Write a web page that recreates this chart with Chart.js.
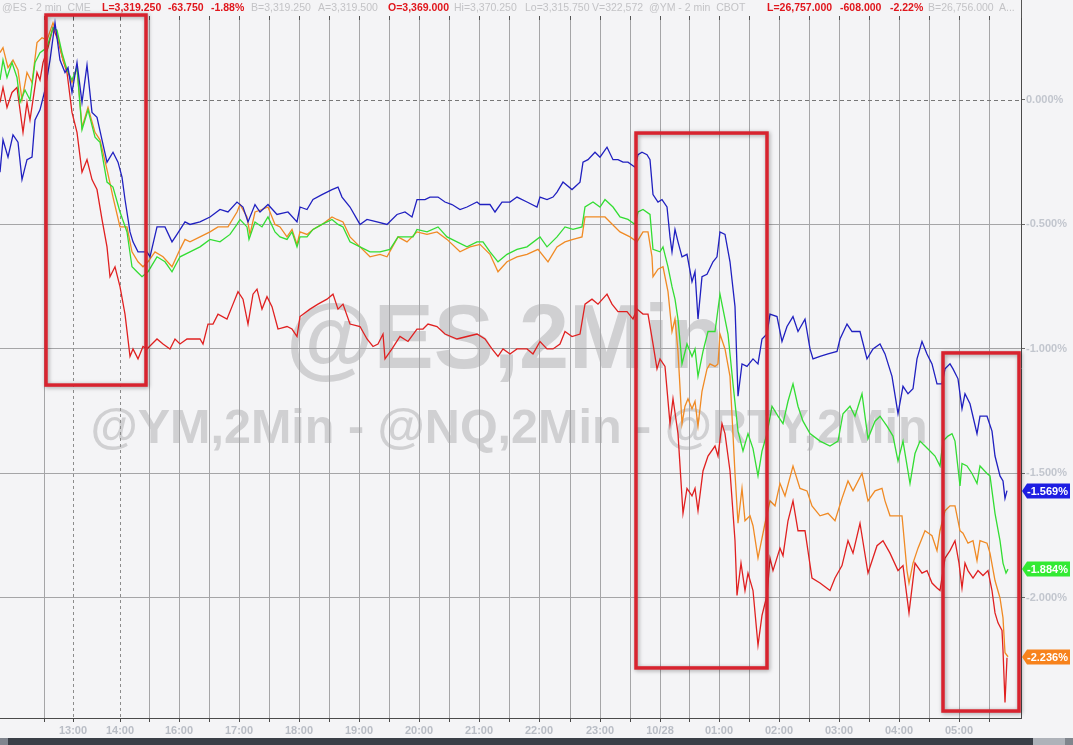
<!DOCTYPE html>
<html><head><meta charset="utf-8">
<script src="https://cdn.jsdelivr.net/npm/chart.js@4.4.1/dist/chart.umd.min.js"></script>
<style>html,body{margin:0;padding:0;background:#f4f4f6;overflow:hidden}#wrap{position:relative;width:1073px;height:745px}canvas{display:block}</style>
</head><body><div id="wrap"><canvas id="c" width="1073" height="745"></canvas></div>
<script>
// ---------- DATA (x = session minutes since chart start, y = % change) ----------
const timeTicks = [44,73,120,149,179,209,239,269,299,329,359,389,419,449,479,509,539,570,600,630,660,689,719,749,779,809,839,869,899,929,959,989];
const timeTickLabels = ['','13:00','14:00','','16:00','','17:00','','18:00','','19:00','','20:00','','21:00','','22:00','','23:00','','10/28','','01:00','','02:00','','03:00','','04:00','','05:00',''];
const sessionBreaks = [73,120];
const pctTicks = [0,-0.5,-1,-1.5,-2];

const seriesBlue = [[0,-0.29],[3,-0.16],[8,-0.23],[13,-0.14],[18,-0.17],[22,-0.32],[27,-0.24],[32,-0.23],[35,-0.08],[40,-0.04],[45,0.04],[50,0.16],[55,0.31],[60,0.16],[65,0.11],[68,0.13],[72,0.03],[77,0.15],[82,-0.01],[87,0.14],[92,-0.05],[97,-0.07],[102,-0.16],[107,-0.25],[113,-0.21],[118,-0.25],[122,-0.31],[125,-0.40],[130,-0.53],[133,-0.57],[138,-0.61],[147,-0.61],[150,-0.63],[157,-0.51],[165,-0.51],[172,-0.57],[177,-0.54],[185,-0.49],[190,-0.50],[200,-0.49],[210,-0.47],[220,-0.44],[228,-0.45],[237,-0.41],[243,-0.43],[248,-0.49],[255,-0.42],[260,-0.45],[268,-0.42],[277,-0.46],[288,-0.45],[297,-0.49],[300,-0.43],[307,-0.44],[313,-0.40],[322,-0.38],[332,-0.36],[338,-0.35],[342,-0.39],[350,-0.43],[360,-0.50],[367,-0.48],[377,-0.49],[387,-0.50],[397,-0.46],[405,-0.45],[412,-0.47],[417,-0.40],[425,-0.40],[430,-0.39],[438,-0.39],[445,-0.41],[452,-0.42],[460,-0.44],[467,-0.43],[477,-0.41],[480,-0.42],[490,-0.42],[495,-0.45],[502,-0.41],[510,-0.41],[517,-0.39],[527,-0.41],[537,-0.43],[540,-0.39],[547,-0.40],[553,-0.39],[557,-0.37],[563,-0.33],[572,-0.36],[580,-0.33],[583,-0.25],[588,-0.24],[595,-0.21],[600,-0.23],[607,-0.19],[613,-0.24],[618,-0.24],[623,-0.25],[628,-0.25],[635,-0.27],[638,-0.22],[642,-0.21],[647,-0.22],[650,-0.24],[653,-0.38],[658,-0.41],[662,-0.40],[667,-0.43],[670,-0.55],[672,-0.61],[675,-0.52],[678,-0.57],[682,-0.63],[687,-0.62],[692,-0.73],[695,-0.69],[698,-0.88],[702,-0.71],[707,-0.70],[713,-0.65],[717,-0.63],[720,-0.53],[725,-0.54],[730,-0.65],[735,-0.83],[738,-1.19],[742,-1.06],[747,-1.07],[753,-1.04],[758,-1.06],[762,-0.96],[767,-0.94],[770,-0.86],[777,-0.87],[782,-0.97],[787,-0.91],[793,-0.87],[798,-0.93],[805,-0.88],[810,-1.00],[813,-1.04],[820,-1.03],[828,-1.02],[837,-1.01],[840,-0.96],[847,-0.90],[852,-0.93],[860,-0.93],[867,-1.04],[873,-1.00],[880,-0.98],[885,-1.02],[892,-1.11],[898,-1.26],[903,-1.15],[908,-1.18],[913,-1.16],[917,-1.04],[922,-0.97],[927,-1.02],[932,-1.06],[937,-1.14],[942,-1.14],[945,-1.08],[950,-1.06],[953,-1.08],[958,-1.12],[962,-1.24],[965,-1.18],[970,-1.22],[977,-1.34],[980,-1.27],[987,-1.27],[992,-1.33],[995,-1.43],[1000,-1.51],[1003,-1.53],[1005,-1.60],[1007,-1.569]];

const seriesGreen = [[0,0.08],[3,0.16],[7,0.09],[12,0.15],[17,0.09],[20,-0.01],[25,0.04],[30,0.00],[35,0.15],[40,0.19],[47,0.21],[53,0.29],[57,0.28],[62,0.19],[67,0.12],[72,0.08],[77,0.13],[82,-0.12],[88,-0.04],[95,-0.15],[100,-0.17],[107,-0.33],[113,-0.35],[120,-0.45],[127,-0.53],[132,-0.67],[137,-0.69],[142,-0.71],[148,-0.69],[157,-0.63],[165,-0.65],[172,-0.69],[180,-0.63],[190,-0.61],[200,-0.59],[210,-0.56],[220,-0.57],[230,-0.54],[237,-0.50],[240,-0.48],[247,-0.51],[249,-0.56],[255,-0.49],[262,-0.51],[268,-0.47],[275,-0.53],[280,-0.55],[287,-0.56],[292,-0.53],[297,-0.59],[300,-0.55],[307,-0.55],[313,-0.52],[322,-0.50],[332,-0.48],[338,-0.50],[343,-0.51],[350,-0.57],[360,-0.59],[370,-0.61],[380,-0.61],[390,-0.60],[398,-0.55],[407,-0.55],[413,-0.55],[417,-0.52],[427,-0.53],[438,-0.51],[447,-0.55],[457,-0.57],[467,-0.59],[477,-0.57],[483,-0.57],[490,-0.61],[498,-0.65],[507,-0.62],[517,-0.60],[527,-0.59],[540,-0.55],[547,-0.59],[557,-0.55],[565,-0.51],[573,-0.52],[582,-0.51],[585,-0.43],[593,-0.41],[600,-0.43],[605,-0.40],[613,-0.43],[620,-0.47],[628,-0.48],[635,-0.50],[638,-0.45],[643,-0.44],[650,-0.46],[653,-0.60],[660,-0.61],[663,-0.59],[668,-0.67],[672,-0.75],[675,-0.80],[678,-0.88],[682,-1.06],[687,-0.98],[692,-1.03],[695,-1.00],[698,-1.11],[703,-1.01],[708,-0.93],[715,-0.93],[720,-0.78],[723,-0.84],[728,-0.94],[733,-1.14],[738,-1.33],[743,-1.41],[748,-1.34],[753,-1.40],[758,-1.51],[762,-1.41],[767,-1.34],[772,-1.23],[778,-1.27],[783,-1.30],[788,-1.21],[793,-1.14],[798,-1.23],[803,-1.29],[810,-1.34],[820,-1.37],[830,-1.39],[838,-1.37],[843,-1.26],[850,-1.23],[855,-1.27],[862,-1.18],[868,-1.36],[875,-1.29],[880,-1.27],[887,-1.31],[893,-1.35],[898,-1.45],[903,-1.37],[910,-1.54],[915,-1.42],[920,-1.37],[925,-1.39],[930,-1.41],[935,-1.43],[940,-1.47],[943,-1.37],[948,-1.35],[952,-1.34],[955,-1.37],[960,-1.55],[962,-1.46],[967,-1.47],[972,-1.50],[977,-1.54],[980,-1.47],[987,-1.50],[990,-1.51],[995,-1.66],[1000,-1.77],[1003,-1.86],[1006,-1.90],[1008,-1.884]];

const seriesOrange = [[0,0.19],[3,0.21],[8,0.13],[13,0.16],[18,0.12],[22,0.00],[27,0.11],[32,0.07],[37,0.23],[42,0.25],[47,0.24],[53,0.31],[58,0.25],[63,0.16],[67,0.12],[72,0.07],[77,0.13],[82,-0.11],[88,-0.03],[95,-0.13],[100,-0.16],[107,-0.28],[113,-0.39],[120,-0.51],[127,-0.51],[132,-0.61],[138,-0.65],[143,-0.67],[148,-0.65],[155,-0.61],[163,-0.63],[172,-0.67],[180,-0.60],[185,-0.56],[190,-0.57],[200,-0.55],[210,-0.53],[218,-0.51],[228,-0.51],[237,-0.45],[240,-0.42],[247,-0.47],[250,-0.54],[255,-0.45],[262,-0.44],[268,-0.43],[275,-0.50],[280,-0.51],[287,-0.55],[292,-0.52],[297,-0.58],[300,-0.53],[307,-0.54],[313,-0.52],[322,-0.50],[332,-0.47],[337,-0.48],[343,-0.49],[350,-0.55],[360,-0.59],[370,-0.63],[380,-0.62],[387,-0.63],[398,-0.55],[407,-0.57],[417,-0.53],[427,-0.54],[437,-0.53],[447,-0.56],[460,-0.61],[470,-0.59],[480,-0.58],[490,-0.62],[498,-0.69],[507,-0.65],[517,-0.63],[527,-0.62],[538,-0.60],[548,-0.65],[557,-0.59],[565,-0.57],[573,-0.56],[582,-0.55],[585,-0.47],[593,-0.47],[598,-0.47],[605,-0.47],[610,-0.49],[615,-0.51],[620,-0.53],[630,-0.55],[637,-0.57],[643,-0.53],[648,-0.53],[652,-0.63],[653,-0.71],[658,-0.68],[663,-0.67],[668,-0.77],[672,-0.93],[675,-0.88],[678,-1.01],[682,-1.30],[685,-1.23],[688,-1.20],[692,-1.24],[695,-1.21],[698,-1.31],[702,-1.17],[707,-1.08],[710,-1.06],[715,-1.07],[718,-1.06],[720,-0.94],[725,-1.00],[730,-1.11],[735,-1.50],[738,-1.70],[742,-1.56],[745,-1.69],[750,-1.67],[753,-1.71],[758,-1.84],[762,-1.76],[765,-1.70],[770,-1.61],[775,-1.63],[780,-1.54],[785,-1.59],[793,-1.47],[800,-1.56],[807,-1.57],[812,-1.63],[820,-1.67],[828,-1.66],[835,-1.69],[842,-1.60],[848,-1.53],[853,-1.57],[862,-1.50],[868,-1.61],[875,-1.57],[882,-1.56],[885,-1.61],[890,-1.67],[897,-1.67],[902,-1.67],[907,-1.89],[909,-1.94],[913,-1.86],[918,-1.80],[925,-1.73],[932,-1.75],[937,-1.81],[940,-1.73],[945,-1.65],[950,-1.63],[955,-1.63],[960,-1.73],[963,-1.74],[968,-1.78],[973,-1.77],[977,-1.85],[980,-1.77],[987,-1.78],[990,-1.82],[995,-1.93],[1000,-2.00],[1003,-2.08],[1005,-2.22],[1008,-2.236]];

const seriesRed = [[0,-0.01],[3,0.05],[7,-0.03],[12,0.03],[17,0.05],[20,-0.04],[23,-0.13],[27,-0.01],[30,-0.08],[33,0.00],[37,0.11],[40,0.08],[43,0.15],[48,0.21],[53,0.29],[58,0.24],[63,0.16],[67,0.11],[72,-0.05],[77,-0.13],[82,-0.29],[87,-0.24],[92,-0.32],[97,-0.36],[102,-0.48],[107,-0.59],[110,-0.71],[115,-0.67],[120,-0.75],[125,-0.86],[130,-1.03],[133,-1.00],[138,-1.04],[143,-0.99],[147,-1.00],[157,-0.96],[163,-0.98],[170,-1.00],[175,-0.96],[180,-0.98],[187,-0.96],[200,-0.96],[203,-0.98],[208,-0.90],[213,-0.90],[218,-0.86],[227,-0.88],[233,-0.82],[238,-0.77],[243,-0.80],[248,-0.90],[253,-0.78],[257,-0.76],[262,-0.84],[267,-0.79],[272,-0.83],[278,-0.92],[287,-0.91],[292,-0.92],[297,-0.95],[300,-0.87],[310,-0.84],[318,-0.82],[327,-0.80],[333,-0.78],[338,-0.84],[343,-0.82],[350,-0.90],[360,-0.91],[367,-0.96],[373,-0.99],[378,-0.98],[383,-0.94],[385,-1.04],[392,-1.00],[400,-0.95],[408,-0.97],[417,-0.92],[423,-0.92],[428,-0.90],[437,-0.91],[445,-0.94],[457,-0.96],[467,-0.95],[477,-0.94],[485,-0.96],[492,-1.00],[498,-1.03],[503,-1.00],[510,-1.02],[517,-1.00],[527,-1.00],[533,-1.02],[540,-0.97],[547,-1.00],[553,-1.00],[560,-0.98],[565,-0.93],[572,-0.95],[580,-0.94],[585,-0.82],[592,-0.80],[598,-0.82],[607,-0.78],[612,-0.82],[618,-0.85],[627,-0.85],[633,-0.88],[637,-0.84],[643,-0.86],[648,-0.86],[653,-0.98],[657,-1.08],[660,-1.04],[665,-1.07],[670,-1.30],[673,-1.20],[678,-1.34],[683,-1.66],[687,-1.56],[692,-1.59],[695,-1.56],[698,-1.65],[703,-1.49],[708,-1.43],[715,-1.39],[718,-1.43],[722,-1.30],[725,-1.34],[730,-1.49],[735,-1.77],[737,-1.99],[741,-1.86],[745,-1.97],[748,-1.90],[753,-1.97],[758,-2.19],[762,-2.07],[767,-1.99],[770,-1.84],[773,-1.89],[780,-1.80],[783,-1.83],[788,-1.69],[793,-1.61],[798,-1.73],[805,-1.73],[812,-1.92],[820,-1.94],[830,-1.97],[835,-1.92],[842,-1.87],[848,-1.77],[853,-1.82],[860,-1.70],[868,-1.90],[877,-1.79],[883,-1.77],[890,-1.82],[898,-1.89],[903,-1.87],[909,-2.06],[915,-1.86],[922,-1.90],[927,-1.89],[932,-1.94],[937,-1.96],[940,-1.97],[945,-1.84],[950,-1.81],[955,-1.77],[959,-1.86],[962,-1.96],[965,-1.86],[968,-1.89],[973,-1.92],[978,-1.89],[983,-1.91],[988,-1.89],[992,-1.97],[995,-2.06],[998,-2.10],[1002,-2.13],[1003,-2.21],[1005,-2.42],[1007,-2.24]];

// highlight rectangles: [startMin, endMin, topPct, bottomPct]
const highlightBoxes = [[46,146,0.341,-1.145],[636,767,-0.133,-2.281],[943,1019,-1.016,-2.454]];

// header quote strip
const headerItems = [
  ['@ES - 2 min  CME','g',2],['L=3,319.250','r',102],['-63.750','r',168],['-1.88%','r',211],
  ['B=3,319.250','g',251],['A=3,319.500','g',318],['O=3,369.000','r',388],['Hi=3,370.250','g',454],
  ['Lo=3,315.750','g',525],['V=322,572','g',592],['@YM - 2 min  CBOT','g',649],
  ['L=26,757.000','r',767],['-608.000','r',840],['-2.22%','r',890],['B=26,756.000','g',928],['A...','g',999]
];

// ---------- CHART ----------
const FONT = "'Liberation Sans', Arial, sans-serif";
const toXY = s => s.map(p => ({x:p[0], y:p[1]}));

const deco = {
  id:'deco',
  beforeDraw(chart){
    const c = chart.ctx;
    c.save();
    c.fillStyle = '#f4f4f6';
    c.fillRect(0,0,chart.width,chart.height);
    // watermarks
    c.fillStyle = '#d0d0d2';
    c.textAlign = 'center'; c.textBaseline = 'alphabetic';
    c.font = 'bold 90px ' + FONT;
    c.fillText('@ES,2Min', 505, 368);
    c.font = 'bold 48.5px ' + FONT;
    c.fillText('@YM,2Min - @NQ,2Min - @RTY,2Min', 509, 443);
    // header
    c.textAlign = 'left'; c.textBaseline = 'middle';
    headerItems.forEach(([t,k,x]) => {
      c.font = (k==='r' ? 'bold ' : '') + '10.5px ' + FONT;
      c.fillStyle = k==='r' ? '#e0161c' : '#c3c3c6';
      c.fillText(t, x, 8.5);
    });
    // bottom scroll bar
    c.fillStyle = '#3a3f47'; c.fillRect(0,738,chart.width,7);
    c.fillStyle = '#80858e'; c.fillRect(0,738,8,7);
    c.fillStyle = '#aeb2b9'; c.fillRect(1033,738,32,7);
    c.fillStyle = '#80858d'; c.fillRect(1065,738,8,7);
    c.restore();
  },
  beforeDatasetsDraw(chart){
    const c = chart.ctx, a = chart.chartArea, xs = chart.scales.x, ys = chart.scales.y;
    c.save();
    c.lineWidth = 1;
    c.strokeStyle = '#8c8c8c';
    c.setLineDash([3,3]);
    sessionBreaks.forEach(t => {
      const px = Math.round(xs.getPixelForValue(t)) + 0.5;
      c.beginPath(); c.moveTo(px, a.top); c.lineTo(px, a.bottom); c.stroke();
    });
    c.strokeStyle = '#777';
    c.setLineDash([4,3]);
    const py = Math.round(ys.getPixelForValue(0)) + 0.5;
    c.beginPath(); c.moveTo(a.left, py); c.lineTo(a.right, py); c.stroke();
    c.restore();
  },
  afterDatasetsDraw(chart){
    const c = chart.ctx, a = chart.chartArea, xs = chart.scales.x, ys = chart.scales.y;
    c.save();
    // top ticks and right border extension
    c.strokeStyle = '#555'; c.lineWidth = 1;
    timeTicks.forEach(t => {
      const px = Math.round(xs.getPixelForValue(t)) + 0.5;
      c.beginPath(); c.moveTo(px, a.top - 2); c.lineTo(px, a.top + 2); c.stroke();
    });
    c.beginPath(); c.moveTo(a.right + 0.5, 0); c.lineTo(a.right + 0.5, a.top); c.stroke();
    // highlight boxes
    c.strokeStyle = '#d8232f'; c.lineWidth = 3.5;
    c.shadowColor = 'rgba(0,0,0,0.35)'; c.shadowBlur = 4; c.shadowOffsetX = 1; c.shadowOffsetY = 1;
    highlightBoxes.forEach(([t0,t1,v0,v1]) => {
      const x0 = xs.getPixelForValue(t0), x1 = xs.getPixelForValue(t1);
      const y0 = ys.getPixelForValue(v0), y1 = ys.getPixelForValue(v1);
      c.strokeRect(x0, y0, x1 - x0, y1 - y0);
    });
    c.restore();
    // last value flags
    c.save();
    chart.data.datasets.forEach(ds => {
      if (!ds.flagColor) return;
      const last = ds.data[ds.data.length - 1].y;
      const y = Math.round(ys.getPixelForValue(last));
      const xl = a.right + 1;
      c.fillStyle = ds.flagColor;
      c.beginPath();
      c.moveTo(xl, y); c.lineTo(xl + 5, y - 7.5); c.lineTo(1070, y - 7.5);
      c.lineTo(1070, y + 7.5); c.lineTo(xl + 5, y + 7.5); c.closePath(); c.fill();
      c.fillStyle = '#ffffff';
      c.font = 'bold 11px ' + FONT;
      c.textAlign = 'left'; c.textBaseline = 'middle';
      c.fillText(last.toFixed(3) + '%', xl + 5, y + 0.5);
    });
    c.restore();
  }
};

new Chart(document.getElementById('c'), {
  type: 'line',
  data: {
    datasets: [
      {label:'@YM', data: toXY(seriesBlue), borderColor:'#2020c0', flagColor:'#1d1de2'},
      {label:'@ES', data: toXY(seriesGreen), borderColor:'#33dd33', flagColor:'#33ea33'},
      {label:'@NQ', data: toXY(seriesOrange), borderColor:'#f08a24', flagColor:'#f7821c'},
      {label:'@RTY', data: toXY(seriesRed), borderColor:'#e02020'}
    ].map(d => Object.assign({borderWidth:1.3, pointRadius:0, tension:0, fill:false}, d))
  },
  options: {
    responsive:false, animation:false, devicePixelRatio:1,
    layout:{padding:{top:18,left:0,right:0,bottom:0}},
    plugins:{legend:{display:false}, tooltip:{enabled:false}},
    scales:{
      x:{
        type:'linear', position:'bottom', min:0, max:1021,
        afterBuildTicks: s => { s.ticks = timeTicks.map(v => ({value:v})); },
        afterFit: s => { s.height = 27; },
        ticks:{autoSkip:false, maxRotation:0, padding:2, color:'#b9bdc5',
          font:{family:FONT, size:11, weight:'bold'},
          callback:(v,i) => timeTickLabels[i]},
        grid:{color: ctx => (ctx.tick && sessionBreaks.includes(ctx.tick.value)) ? 'rgba(0,0,0,0)' : '#a5a5a7',
          lineWidth:1, tickLength:4, tickColor:'#4a4a4a'},
        border:{display:true, color:'#4a4a4a', width:1}
      },
      y:{
        type:'linear', position:'right', min:-2.482, max:0.329,
        afterBuildTicks: s => { s.ticks = pctTicks.map(v => ({value:v})); },
        afterFit: s => { s.width = 52; },
        ticks:{padding:1, color:'#c2c6ce', font:{family:FONT, size:11, weight:'bold'},
          callback: v => v.toFixed(3) + '%'},
        grid:{color: ctx => (ctx.tick && ctx.tick.value === 0) ? 'rgba(0,0,0,0)' : '#a5a5a7',
          lineWidth:1, tickLength:4, tickColor:'#6a6a6a'},
        border:{display:true, color:'#4a4a4a', width:1}
      }
    }
  },
  plugins:[deco]
});
</script></body></html>
